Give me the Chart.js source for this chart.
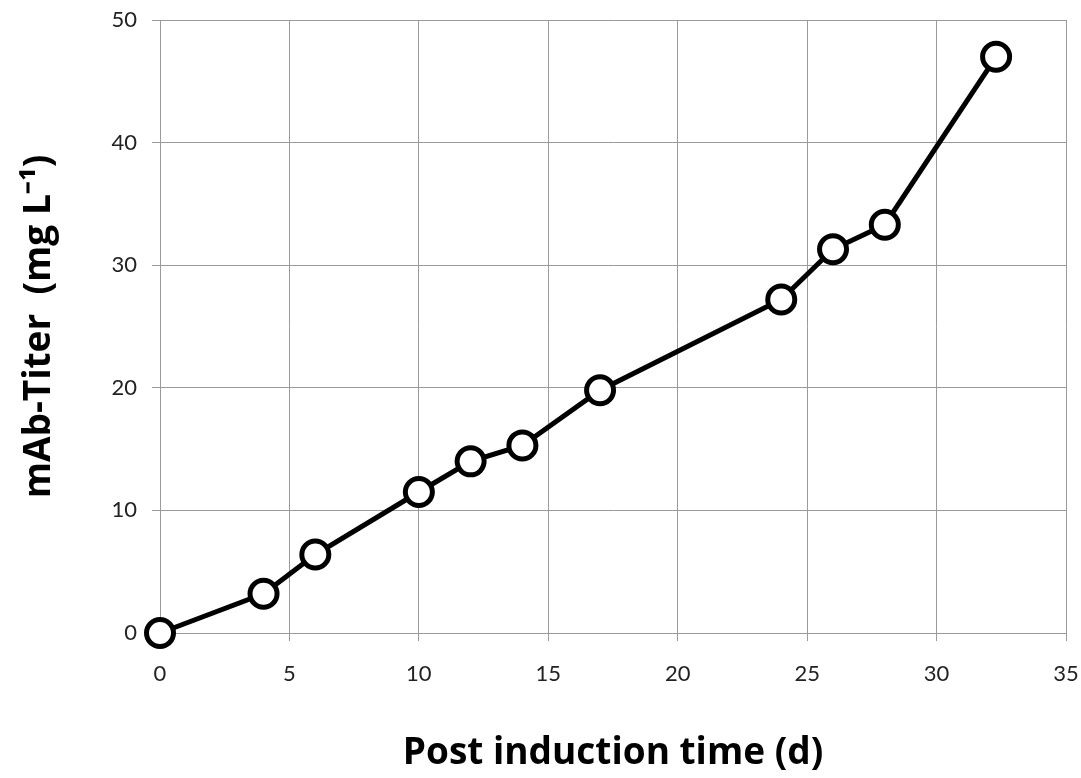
<!DOCTYPE html>
<html>
<head>
<meta charset="utf-8">
<script src="https://cdn.jsdelivr.net/npm/chart.js@4/dist/chart.umd.min.js"></script>
<style>
  html, body { margin: 0; padding: 0; background: #ffffff; }
  #wrap { width: 1081px; height: 778px; }
</style>
</head>
<body>
<div id="wrap"><canvas id="c" width="1081" height="778"></canvas></div>
<script>
// Data
const days = [0, 4, 6, 10, 12, 14, 17, 24, 26, 28, 32.3];
const titer = [0, 3.2, 6.4, 11.5, 14.0, 15.3, 19.8, 27.2, 31.3, 33.3, 47.0];
const xTicks = [0, 5, 10, 15, 20, 25, 30, 35];
const yTicks = [0, 10, 20, 30, 40, 50];
const xTitle = 'Post induction time (d)';
const yTitle = 'mAb-Titer  (mg L\u207B\u00B9)';

const points = days.map((d, i) => ({ x: d, y: titer[i] }));
const gridColor = '#9a9a9a';

new Chart(document.getElementById('c'), {
  type: 'scatter',
  data: {
    datasets: [{
      label: 'mAb titer',
      data: points,
      showLine: true,
      borderColor: '#000000',
      borderWidth: 5,
      backgroundColor: '#ffffff',
      pointBackgroundColor: '#ffffff',
      pointBorderColor: '#000000',
      pointBorderWidth: 5,
      pointRadius: 13.5,
      pointHoverRadius: 13.5,
      tension: 0,
      clip: false
    }]
  },
  options: {
    responsive: false,
    animation: false,
    events: [],
    layout: { autoPadding: false, padding: { top: 20, right: 15, left: 0, bottom: 0 } },
    plugins: {
      legend: { display: false },
      tooltip: { enabled: false }
    },
    scales: {
      x: {
        type: 'linear',
        min: 0, max: 35,
        afterFit: (s) => { s.height = 145; s.paddingLeft = 0; s.paddingRight = 0; },
        afterBuildTicks: (s) => { s.ticks = xTicks.map(v => ({ value: v })); },
        grid: { color: gridColor, lineWidth: 1, tickLength: 8, drawTicks: true, tickColor: gridColor },
        border: { color: gridColor, width: 1 },
        ticks: {
          padding: 20,
          color: '#222222',
          font: { family: 'Lato', size: 22 },
          maxRotation: 0
        },
        title: {
          display: true,
          text: xTitle,
          color: '#000000',
          font: { family: 'Open Sans', size: 37, weight: 'bold' },
          padding: { top: 0, bottom: 2 }
        }
      },
      y: {
        type: 'linear',
        min: 0, max: 50,
        afterFit: (s) => { s.width = 160; s.paddingTop = 0; s.paddingBottom = 0; },
        afterBuildTicks: (s) => { s.ticks = yTicks.map(v => ({ value: v })); },
        grid: { color: gridColor, lineWidth: 1, tickLength: 8, drawTicks: true, tickColor: gridColor },
        border: { color: gridColor, width: 1 },
        ticks: {
          padding: 15,
          color: '#222222',
          font: { family: 'Lato', size: 22 }
        },
        title: {
          display: true,
          text: yTitle,
          color: '#000000',
          font: { family: 'Open Sans', size: 37, weight: 'bold' },
          padding: { top: 17, bottom: 0 }
        }
      }
    }
  }
});
</script>
</body>
</html>
